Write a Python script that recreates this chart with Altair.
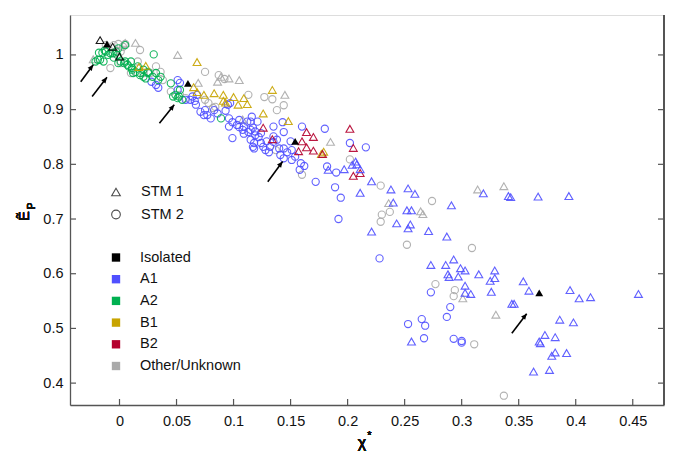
import altair as alt
import pandas as pd

# ---------------- data ----------------
X_TICKS = [0, 0.05, 0.1, 0.15, 0.2, 0.25, 0.3, 0.35, 0.4, 0.45]
Y_TICKS = [0.4, 0.5, 0.6, 0.7, 0.8, 0.9, 1.0]

other_tri_x = [-0.023, 0.005, 0.014, 0.051, 0.069, 0.086, 0.089, 0.096, 0.105, 0.108,
               0.145, 0.185, 0.236, 0.264, 0.266, 0.314, 0.337, 0.301, 0.330]
other_tri_y = [0.992, 1.022, 1.022, 1.000, 0.949, 0.951, 0.960, 0.957, 0.954, 0.882,
               0.927, 0.841, 0.729, 0.714, 0.709, 0.754, 0.760, 0.555, 0.525]

other_circ_x = [-0.012, -0.005, -0.001, 0.003, 0.005, -0.004, 0.001, -0.008, 0.001, 0.010,
                0.016, 0.018, 0.021, 0.027, 0.032, 0.036, 0.038, 0.045, 0.053, 0.058,
                0.075, 0.087, 0.092, 0.075, 0.078, 0.082, 0.084, 0.113, 0.127, 0.134,
                0.138, 0.144, 0.137, 0.160, 0.202, 0.229, 0.230, 0.229, 0.237, 0.274,
                0.252, 0.309, 0.277, 0.294, 0.293, 0.311, 0.337]
other_circ_y = [1.018, 1.018, 1.020, 1.015, 1.020, 1.003, 1.006, 0.976, 0.985, 0.967,
                0.988, 1.009, 0.967, 0.967, 0.979, 0.969, 0.954, 0.933, 0.927, 0.921,
                0.969, 0.963, 0.956, 0.918, 0.912, 0.903, 0.905, 0.927, 0.923, 0.919,
                0.899, 0.908, 0.826, 0.781, 0.809, 0.761, 0.708, 0.695, 0.713, 0.733,
                0.653, 0.647, 0.581, 0.570, 0.559, 0.471, 0.377]

a1_circ_x = [0.028, 0.032, 0.034, 0.051, 0.053, 0.051, 0.058, 0.062, 0.064, 0.066,
             0.067, 0.068, 0.071, 0.074, 0.075, 0.077, 0.080, 0.083, 0.086, 0.093,
             0.095, 0.097, 0.096, 0.096, 0.099, 0.103, 0.105, 0.105, 0.108, 0.109,
             0.112, 0.115, 0.116, 0.121, 0.115, 0.117, 0.119, 0.113, 0.109, 0.119,
             0.122, 0.124, 0.099, 0.115, 0.118, 0.124, 0.117, 0.118, 0.129, 0.126,
             0.128, 0.132, 0.131, 0.135, 0.135, 0.135, 0.138, 0.140, 0.143, 0.144,
             0.144, 0.147, 0.141, 0.144, 0.150, 0.151, 0.151, 0.154, 0.159, 0.162,
             0.158, 0.160, 0.180, 0.182, 0.172, 0.189, 0.194, 0.192, 0.190, 0.202,
             0.216, 0.228, 0.273, 0.290, 0.287, 0.253, 0.265, 0.268, 0.267, 0.293,
             0.300, 0.300]
a1_circ_y = [0.951, 0.945, 0.940, 0.954, 0.949, 0.936, 0.918, 0.918, 0.924, 0.916,
             0.909, 0.927, 0.896, 0.890, 0.899, 0.890, 0.884, 0.899, 0.893, 0.898,
             0.909, 0.912, 0.884, 0.869, 0.877, 0.872, 0.881, 0.868, 0.863, 0.869,
             0.878, 0.878, 0.887, 0.878, 0.863, 0.867, 0.860, 0.859, 0.856, 0.853,
             0.850, 0.857, 0.848, 0.845, 0.839, 0.839, 0.832, 0.829, 0.842, 0.832,
             0.826, 0.832, 0.822, 0.869, 0.851, 0.841, 0.845, 0.829, 0.877, 0.859,
             0.829, 0.822, 0.817, 0.811, 0.842, 0.826, 0.808, 0.814, 0.802, 0.797,
             0.790, 0.869, 0.865, 0.796, 0.768, 0.758, 0.739, 0.700, 0.785, 0.839,
             0.831, 0.628, 0.566, 0.539, 0.521, 0.508, 0.517, 0.505, 0.482, 0.481,
             0.477, 0.474]

a1_tri_x = [0.183, 0.197, 0.204, 0.207, 0.208, 0.211, 0.221, 0.211, 0.238, 0.253,
            0.259, 0.240, 0.252, 0.256, 0.243, 0.221, 0.255, 0.253, 0.271, 0.287,
            0.291, 0.319, 0.341, 0.343, 0.367, 0.394, 0.273, 0.286, 0.293, 0.299,
            0.303, 0.288, 0.289, 0.297, 0.315, 0.329, 0.325, 0.329, 0.303, 0.303,
            0.308, 0.326, 0.354, 0.359, 0.395, 0.403, 0.413, 0.455, 0.344, 0.346,
            0.386, 0.398, 0.373, 0.382, 0.368, 0.369, 0.382, 0.379, 0.392, 0.363,
            0.377, 0.256]
a1_tri_y = [0.790, 0.791, 0.799, 0.805, 0.800, 0.791, 0.769, 0.748, 0.754, 0.756,
            0.746, 0.730, 0.716, 0.716, 0.692, 0.677, 0.690, 0.683, 0.678, 0.668,
            0.725, 0.747, 0.742, 0.740, 0.741, 0.742, 0.616, 0.616, 0.626, 0.610,
            0.606, 0.599, 0.594, 0.595, 0.599, 0.606, 0.587, 0.592, 0.578, 0.565,
            0.563, 0.567, 0.586, 0.569, 0.570, 0.555, 0.557, 0.563, 0.545, 0.545,
            0.516, 0.511, 0.488, 0.484, 0.476, 0.473, 0.456, 0.450, 0.455, 0.421,
            0.424, 0.476]

a2_circ_x = [-0.021, -0.019, -0.018, -0.017, -0.015, -0.014, -0.013, -0.012, -0.010, -0.008,
             -0.006, -0.005, -0.003, -0.002, -0.001, -0.001, 0.001, 0.004, 0.005, 0.005,
             0.007, 0.008, 0.010, 0.011, 0.011, 0.012, 0.014, 0.016, 0.018, 0.018,
             0.021, 0.021, 0.023, 0.025, 0.025, 0.029, 0.030, 0.032, 0.034, 0.036,
             0.045, 0.047, 0.049, 0.051, 0.052, 0.053, 0.055, 0.089]
a2_circ_y = [0.988, 0.991, 1.004, 0.991, 1.004, 0.988, 1.008, 1.006, 1.000, 1.003,
             1.003, 0.995, 1.006, 1.000, 1.012, 0.985, 0.988, 0.985, 1.018, 0.988,
             0.982, 0.979, 0.988, 0.976, 0.973, 0.967, 0.969, 0.979, 0.967, 0.963,
             0.960, 0.973, 0.957, 0.969, 0.967, 0.960, 1.001, 0.967, 0.954, 0.960,
             0.948, 0.924, 0.927, 0.921, 0.924, 0.936, 0.918, 0.884]

b1_tri_x = [0.017, 0.023, 0.068, 0.065, 0.068, 0.074, 0.083, 0.091, 0.091, 0.093,
            0.100, 0.109, 0.104, 0.112, 0.134, 0.126, 0.148, 0.179, 0.177]
b1_tri_y = [0.978, 0.980, 0.987, 0.941, 0.932, 0.927, 0.930, 0.927, 0.916, 0.913,
            0.923, 0.921, 0.909, 0.910, 0.936, 0.893, 0.879, 0.823, 0.819]

b2_tri_x = [0.126, 0.134, 0.160, 0.164, 0.170, 0.164, 0.157, 0.170, 0.178, 0.202,
            0.205, 0.205, 0.211]
b2_tri_y = [0.867, 0.846, 0.842, 0.859, 0.850, 0.831, 0.824, 0.825, 0.819, 0.865,
            0.830, 0.779, 0.784]

iso_open_x = [-0.017, -0.006, 0.000]
iso_open_y = [1.027, 1.015, 0.997]
iso_fill_x = [-0.011, 0.060, 0.154, 0.368]
iso_fill_y = [1.020, 0.948, 0.842, 0.565]

arrow_x0 = [-0.034, -0.024, 0.035, 0.130, 0.344]
arrow_y0 = [0.951, 0.924, 0.875, 0.768, 0.491]
arrow_x1 = [-0.023, -0.011, 0.048, 0.143, 0.357]
arrow_y1 = [0.982, 0.959, 0.909, 0.805, 0.527]

GROUPS = ["Isolated", "A1", "A2", "B1", "B2", "Other/Unknown"]
COLORS = ["#000000", "#5050ff", "#00b050", "#c8a400", "#b4002e", "#aaaaaa"]
STMS = ["STM 1", "STM 2"]

# ---------------- table ----------------
rows = []
def add(xs, ys, group, stm):
    for a, b in zip(xs, ys):
        rows.append({"x": a, "y": b, "group": group, "stm": stm})

add(other_circ_x, other_circ_y, "Other/Unknown", "STM 2")
add(other_tri_x, other_tri_y, "Other/Unknown", "STM 1")
add(a1_circ_x, a1_circ_y, "A1", "STM 2")
add(a2_circ_x, a2_circ_y, "A2", "STM 2")
add(b1_tri_x, b1_tri_y, "B1", "STM 1")
add(b2_tri_x, b2_tri_y, "B2", "STM 1")
add(a1_tri_x, a1_tri_y, "A1", "STM 1")
add(iso_open_x, iso_open_y, "Isolated", "STM 1")
pts = pd.DataFrame(rows)
pts["idx"] = range(len(pts))
iso = pd.DataFrame({"x": iso_fill_x, "y": iso_fill_y})
arrows = pd.DataFrame({"x0": arrow_x0, "y0": arrow_y0, "x1": arrow_x1, "y1": arrow_y1})

W, H = 594, 390
XDOM = [-0.0434, 0.4774]
YDOM = [0.360, 1.073]
FONT = "Liberation Sans"
TL = 6  # inward tick length

xs = alt.Scale(domain=XDOM, nice=False, zero=False)
ys = alt.Scale(domain=YDOM, nice=False, zero=False)

xaxis = alt.Axis(values=X_TICKS, format="~g", tickSize=0, labelPadding=9, grid=False,
                 domainColor="#555555", domainWidth=1.3, labelFont=FONT, labelFontSize=14.5,
                 labelColor="#111111", title=None)
yaxis = alt.Axis(values=Y_TICKS, format="~g", tickSize=0, labelPadding=7, grid=False,
                 domainColor="#555555", domainWidth=1.3, labelFont=FONT, labelFontSize=14.5,
                 labelColor="#111111", title=None)

base_pts = alt.Chart(pts).mark_point(filled=False, strokeWidth=1.1, opacity=0.9).encode(
    x=alt.X("x:Q", scale=xs, axis=xaxis),
    y=alt.Y("y:Q", scale=ys, axis=yaxis),
    color=alt.Color("group:N", scale=alt.Scale(domain=GROUPS, range=COLORS), legend=None),
    shape=alt.Shape("stm:N", scale=alt.Scale(domain=STMS, range=["triangle-up", "circle"]), legend=None),
    size=alt.Size("stm:N", scale=alt.Scale(domain=STMS, range=[62, 52]), legend=None),
    order=alt.Order("idx:Q"),
)

iso_layer = alt.Chart(iso).mark_point(shape="triangle-up", filled=True, color="#000000",
                                      size=62, opacity=1).encode(
    x=alt.X("x:Q", scale=xs), y=alt.Y("y:Q", scale=ys))

shafts = alt.Chart(arrows).mark_rule(color="#000000", strokeWidth=1.6).encode(
    x=alt.X("x0:Q", scale=xs), y=alt.Y("y0:Q", scale=ys), x2="x1:Q", y2="y1:Q")
heads = alt.Chart(arrows).mark_point(shape="M0,0L0.5,1.1L-0.5,1.1Z", filled=True,
                                     color="#000000", size=110, angle=38, opacity=1).encode(
    x=alt.X("x1:Q", scale=xs), y=alt.Y("y1:Q", scale=ys))

# inward ticks and right border
xt = pd.DataFrame({"v": X_TICKS})
yt = pd.DataFrame({"v": Y_TICKS})
tick_col = "#555555"
xticks = alt.Chart(xt).mark_rule(color=tick_col, strokeWidth=1.2).encode(
    x=alt.X("v:Q", scale=xs), y=alt.value(H), y2=alt.value(H - TL))
ylticks = alt.Chart(yt).mark_rule(color=tick_col, strokeWidth=1.2).encode(
    y=alt.Y("v:Q", scale=ys), x=alt.value(0), x2=alt.value(TL))
yrticks = alt.Chart(yt).mark_rule(color=tick_col, strokeWidth=1.2).encode(
    y=alt.Y("v:Q", scale=ys), x=alt.value(W), x2=alt.value(W - TL))
rborder = alt.Chart(yt).mark_rule(color=tick_col, strokeWidth=1.3).encode(
    x=alt.value(W), y=alt.value(0), y2=alt.value(H))

# axis titles
ytitle1 = alt.Chart(yt).mark_text(text="Ẽ", font=FONT, fontSize=15, angle=270,
                                  color="#111111", baseline="middle", align="center").encode(
    x=alt.value(-46), y=alt.value(201))
ytitle2 = alt.Chart(yt).mark_text(text="P", font=FONT, fontSize=10, angle=270,
                                  color="#111111", baseline="middle", align="center").encode(
    x=alt.value(-38), y=alt.value(191))
xtitle1 = alt.Chart(xt).mark_text(text="χ", font=FONT, fontSize=16, color="#111111",
                                  baseline="middle", align="center").encode(
    x=alt.value(292), y=alt.value(428))
xtitle2 = alt.Chart(xt).mark_text(text="*", font=FONT, fontSize=11, color="#111111",
                                  baseline="middle", align="center").encode(
    x=alt.value(299.5), y=alt.value(421))

# custom legend (pixel rows computed from the entry index)
LX, LTX = 46, 71
stm_leg = pd.DataFrame({"label": STMS, "shape": ["triangle-up", "circle"], "i": [0, 1]})
grp_leg = pd.DataFrame({"label": GROUPS, "i": list(range(len(GROUPS)))})

stm_sym = alt.Chart(stm_leg).transform_calculate(py="177 + datum.i * 22.5").mark_point(
    filled=False, color="#000000", strokeWidth=1.1, size=75).encode(
    x=alt.value(LX), y=alt.Y("py:Q", scale=None),
    shape=alt.Shape("shape:N", scale=None, legend=None))
stm_txt = alt.Chart(stm_leg).transform_calculate(py="177 + datum.i * 22.5").mark_text(
    align="left", baseline="middle", font=FONT, fontSize=14.5, color="#111111").encode(
    x=alt.value(LTX), y=alt.Y("py:Q", scale=None), text="label:N")
grp_sym = alt.Chart(grp_leg).transform_calculate(py="242.5 + datum.i * 21.7").mark_point(
    shape="square", filled=True, size=70, opacity=1).encode(
    x=alt.value(LX), y=alt.Y("py:Q", scale=None),
    color=alt.Color("label:N", scale=alt.Scale(domain=GROUPS, range=COLORS), legend=None))
grp_txt = alt.Chart(grp_leg).transform_calculate(py="242.5 + datum.i * 21.7").mark_text(
    align="left", baseline="middle", font=FONT, fontSize=14.5, color="#111111").encode(
    x=alt.value(LTX - 1), y=alt.Y("py:Q", scale=None), text="label:N")

chart = alt.layer(
    base_pts, iso_layer, shafts, heads, xticks, ylticks, yrticks, rborder,
    ytitle1, ytitle2, xtitle1, xtitle2, stm_sym, stm_txt, grp_sym, grp_txt
).properties(
    width=W, height=H,
    autosize=alt.AutoSizeParams(type="none"),
    padding={"left": 70, "top": 15, "right": 15, "bottom": 50},
).configure_view(stroke=None).configure(background="white")

chart.save("out.html", embed_options={"renderer": "svg", "actions": False})
